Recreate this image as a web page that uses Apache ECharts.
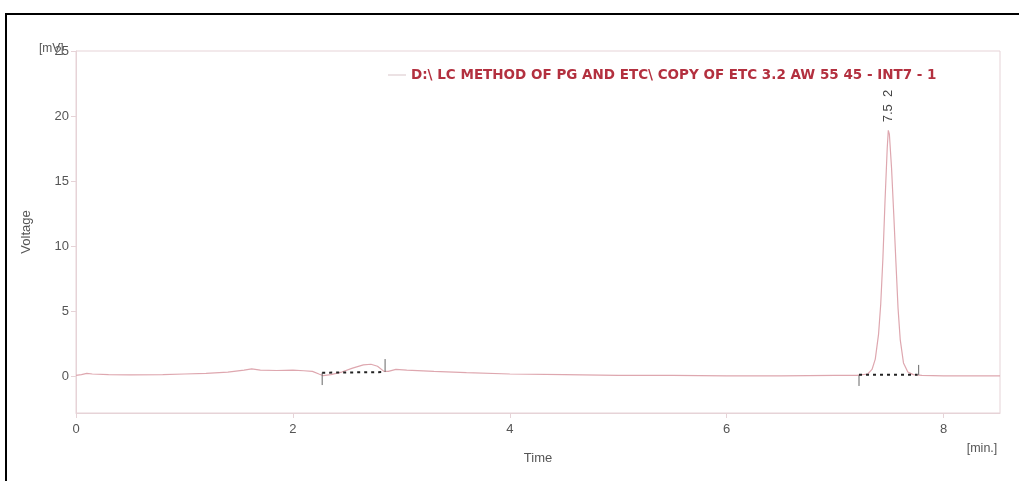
<!DOCTYPE html>
<html>
<head>
<meta charset="utf-8">
<script src="https://cdn.jsdelivr.net/npm/echarts@6/dist/echarts.min.js"></script>
<style>
  html, body { margin: 0; padding: 0; background: #fff; }
  #chart { width: 1019px; height: 481px; }
</style>
</head>
<body>
<div id="chart"></div>
<script>
// Chromatogram trace: [time (min), signal (mV)]
const traceName = 'D:\\ LC METHOD OF PG AND ETC\\ COPY OF ETC 3.2 AW 55 45 - INT7 - 1';
const trace = [
  [0.00, 0.05], [0.05, 0.10], [0.10, 0.20], [0.15, 0.15], [0.30, 0.10],
  [0.50, 0.08], [0.80, 0.10], [1.00, 0.15], [1.20, 0.20], [1.40, 0.30],
  [1.55, 0.45], [1.62, 0.55], [1.70, 0.45], [1.85, 0.42], [2.00, 0.45],
  [2.10, 0.40], [2.18, 0.35], [2.24, 0.15], [2.28, 0.02], [2.35, 0.10],
  [2.45, 0.30], [2.55, 0.60], [2.65, 0.85], [2.72, 0.90], [2.78, 0.75],
  [2.84, 0.35], [2.88, 0.35], [2.95, 0.50], [3.05, 0.45], [3.30, 0.35],
  [3.60, 0.25], [4.00, 0.15], [4.50, 0.10], [5.00, 0.05], [5.50, 0.05],
  [6.00, 0.00], [6.50, 0.00], [7.00, 0.05], [7.20, 0.05], [7.30, 0.15],
  [7.34, 0.50], [7.37, 1.30], [7.40, 3.20], [7.42, 5.50], [7.44, 9.00],
  [7.46, 13.5], [7.48, 17.5], [7.49, 18.9], [7.50, 18.6], [7.52, 16.0],
  [7.54, 12.5], [7.56, 8.80], [7.58, 5.20], [7.60, 2.80], [7.63, 1.00],
  [7.67, 0.30], [7.72, 0.10], [7.80, 0.05], [8.00, 0.00], [8.52, 0.00]
];

// Integration baselines (dotted) for the two detected peaks
const baselineA = [[2.27, 0.25], [2.85, 0.30]];
const baselineB = [[7.22, 0.10], [7.76, 0.10]];

// Start / end markers of the integration windows
const markerSegments = [
  [[2.27, 0.25], [2.27, -0.70]],
  [[2.85, 0.30], [2.85, 1.30]],
  [[7.22, 0.05], [7.22, -0.77]],
  [[7.77, 0.08], [7.77, 0.85]]
];

// Peak annotation
const peakPoint = [7.49, 18.9];
const peakLabel = '7.5  2';

// Axes
const xTicks = [0, 2, 4, 6, 8];
const yTicks = [0, 5, 10, 15, 20, 25];
const xRange = [0, 8.52];
const yRange = [-2.85, 25];

const axisColor = '#e6d3d7';
const labelColor = '#555';
const font = '"Liberation Sans", Arial, sans-serif';
const legendFont = '"DejaVu Sans", Verdana, sans-serif';

const chart = echarts.init(document.getElementById('chart'), null, { renderer: 'canvas' });

const markerSeries = markerSegments.map(seg => ({
  type: 'line',
  data: seg,
  symbol: 'none',
  silent: true,
  lineStyle: { color: '#666', width: 1 },
  z: 4
}));

chart.setOption({
  animation: false,
  backgroundColor: '#fff',
  textStyle: { fontFamily: font },
  grid: {
    left: 76, right: 19, top: 51, bottom: 68,
    show: true, borderColor: axisColor, borderWidth: 1, backgroundColor: 'transparent'
  },
  legend: {
    data: [traceName],
    left: 383, top: 63,
    icon: 'rect', itemWidth: 18, itemHeight: 1, itemGap: 8,
    textStyle: { color: '#b3303f', fontWeight: 'bold', fontSize: 13.5, fontFamily: legendFont },
    itemStyle: { color: '#d8c4c8' }
  },
  xAxis: {
    type: 'value',
    min: xRange[0], max: xRange[1],
    splitLine: { show: false },
    axisLine: { onZero: false, lineStyle: { color: axisColor } },
    axisTick: { length: 5, lineStyle: { color: axisColor }, customValues: xTicks },
    axisLabel: { color: labelColor, fontSize: 13, margin: 10, customValues: xTicks }
  },
  yAxis: {
    type: 'value',
    min: yRange[0], max: yRange[1],
    splitLine: { show: false },
    axisLine: { show: true, onZero: false, lineStyle: { color: axisColor } },
    axisTick: { show: true, length: 5, lineStyle: { color: axisColor }, customValues: yTicks },
    axisLabel: { color: labelColor, fontSize: 13, margin: 7, customValues: yTicks }
  },
  series: [
    {
      name: traceName,
      type: 'line',
      data: trace,
      symbol: 'none',
      lineStyle: { color: '#dea7af', width: 1.2 },
      itemStyle: { color: '#d8c4c8' },
      z: 3
    },
    {
      type: 'line', data: baselineA, symbol: 'none', silent: true,
      lineStyle: { color: '#222', width: 2, type: [3, 4] }, z: 5
    },
    {
      type: 'line', data: baselineB, symbol: 'none', silent: true,
      lineStyle: { color: '#222', width: 2, type: [3, 4] }, z: 5
    },
    ...markerSeries
  ]
});

// Text placed relative to the plot: axis titles, units and the peak label
const peakPx = chart.convertToPixel({ gridIndex: 0 }, peakPoint);
chart.setOption({
  graphic: [
    { type: 'rect', shape: { x: 5, y: 13, width: 1014, height: 2 }, style: { fill: '#000' } },
    { type: 'rect', shape: { x: 5, y: 13, width: 2, height: 468 }, style: { fill: '#000' } },
    { type: 'text', x: 39, y: 43, style: { text: '[mV]', fill: labelColor, font: '12px ' + font } },
    {
      type: 'text', x: 26, y: 232, rotation: Math.PI / 2,
      style: { text: 'Voltage', fill: labelColor, font: '13px ' + font, align: 'center', verticalAlign: 'middle' }
    },
    { type: 'text', x: 538, y: 458, style: { text: 'Time', fill: labelColor, font: '13px ' + font, align: 'center', verticalAlign: 'middle' } },
    { type: 'text', x: 982, y: 449, style: { text: '[min.]', fill: labelColor, font: '12.5px ' + font, align: 'center', verticalAlign: 'middle' } },
    {
      type: 'text', x: peakPx[0], y: peakPx[1] - 8, rotation: Math.PI / 2,
      style: { text: peakLabel, fill: '#444', font: '13px ' + font, align: 'left', verticalAlign: 'middle' }
    }
  ]
});
</script>
</body>
</html>
